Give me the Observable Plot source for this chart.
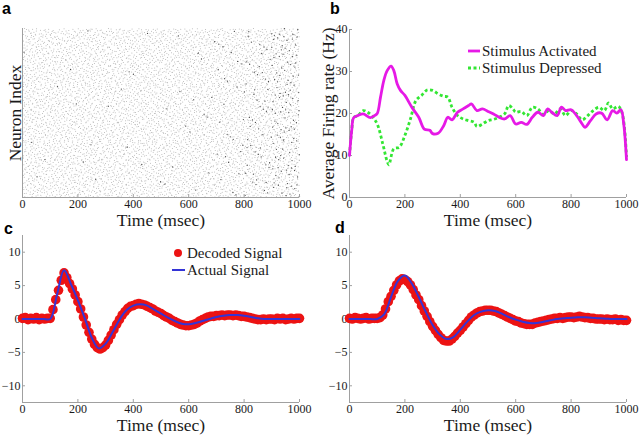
<!DOCTYPE html>
<html>
<head>
<meta charset="utf-8">
<script src="https://cdn.jsdelivr.net/npm/d3@7"></script>
<script src="https://cdn.jsdelivr.net/npm/@observablehq/plot@0.6"></script>
<style>
  html, body { margin: 0; padding: 0; background: #fff; }
  #fig { position: relative; width: 640px; height: 435px; background: #fff; overflow: hidden;
         font-family: "Liberation Serif", "DejaVu Serif", serif; color: #1a1a1a; }
  .panel { position: absolute; }
  .plabel { position: absolute; font-family: "Liberation Sans", Arial, sans-serif; font-weight: bold;
            font-size: 16px; line-height: 16px; color: #000; }
  .leg { position: absolute; font-size: 15px; line-height: 14px; white-space: nowrap; color: #1a1a1a; }
  .sw { position: absolute; }
</style>
</head>
<body>
<div id="fig"></div>
<script>
// ---------- shared tick labels ----------
const timeTicks = [0, 200, 400, 600, 800, 1000];
const rateTicks = [0, 10, 20, 30, 40];
const signalTicks = [-10, -5, 0, 5, 10];

// ---------- panel a: raster (dark spikes per 100 ms bin) ----------
const rasterBins = [0, 100, 200, 300, 400, 500, 600, 700, 800, 900];
const darkSpikesPerBin = [4, 3, 4, 4, 4, 6, 10, 25, 55, 115];
const lightSpikeCount = 6000;
const neuronCount = 170;

// ---------- panel b: average firing rates ----------
const activatedT = [0, 8, 15, 30, 50, 75, 90, 100, 112, 124, 136, 150, 160, 172, 184, 200, 225, 250, 270, 290, 300, 320, 340, 355, 370, 390, 410, 430, 440, 460, 480, 500, 520, 540, 560, 580, 600, 620, 640, 660, 680, 700, 715, 730, 750, 765, 780, 800, 820, 840, 850, 870, 890, 910, 930, 950, 965, 980, 990, 1000];
const activatedV = [10, 16, 19, 19.5, 19.9, 19, 19.5, 20, 23.9, 27.9, 30.2, 31.3, 30.2, 27.1, 25.5, 24.3, 21.5, 19.1, 16.3, 16, 15.2, 15.3, 17.1, 19.1, 18.5, 20.3, 21.1, 21.9, 22.3, 20.7, 21.1, 20.5, 19.9, 19.1, 18.7, 19.5, 17.5, 17.9, 17.4, 19.1, 20.3, 19.5, 21.1, 20.3, 19.5, 21.5, 20.7, 20.9, 19.5, 17.5, 16.7, 18.3, 19.9, 20.1, 18.5, 20.7, 20.1, 20.9, 17.5, 9.0];
const depressedT = [0, 8, 15, 30, 50, 65, 80, 100, 120, 135, 142, 160, 180, 200, 220, 240, 260, 280, 300, 320, 340, 355, 370, 390, 410, 430, 450, 460, 480, 500, 520, 540, 560, 575, 590, 600, 620, 640, 660, 680, 700, 720, 740, 760, 780, 800, 820, 840, 860, 880, 900, 920, 935, 950, 970, 985, 1000];
const depressedV = [10, 16, 19, 19.5, 20.7, 20.3, 19.5, 17.5, 12.8, 8.8, 7.8, 11.6, 12, 14.8, 18.7, 23.1, 24.3, 25.6, 25.5, 24.7, 24.1, 23.9, 21.5, 19.5, 18.7, 18.3, 17.9, 16.9, 17.5, 18.3, 18.6, 19.1, 19.9, 21.9, 21.1, 20.3, 20.5, 19.5, 21.5, 21.1, 19.8, 20.7, 19.9, 21.1, 19.5, 20.7, 19.9, 18.5, 19.5, 20.7, 21.5, 20.7, 22.5, 21.1, 21.7, 19.9, 9.6];

// ---------- panels c, d: actual signals (25 ms samples) ----------
const actualT = [0, 25, 50, 75, 100, 125, 150, 175, 200, 225, 250, 275, 300, 325, 350, 375, 400, 425, 450, 475, 500, 525, 550, 575, 600, 625, 650, 675, 700, 725, 750, 775, 800, 825, 850, 875, 900, 925, 950, 975, 1000];
const actualC = [0, 0, 0, 0, 0, 3.7, 7.3, 5.2, 2.8, 0.1, -2.8, -4.4, -3.7, -2.0, -0.1, 1.3, 2.0, 2.2, 2.0, 1.4, 0.8, 0.2, -0.3, -0.7, -0.8, -0.6, -0.3, 0.0, 0.3, 0.5, 0.6, 0.6, 0.5, 0.3, 0.1, 0.0, 0.0, 0.0, 0.0, 0.0, 0.0];
const actualD = [0, 0, 0, 0, 0, 0.7, 3.3, 5.7, 6.5, 5.3, 3.3, 1.1, -0.9, -2.3, -3.0, -2.7, -1.6, -0.4, 0.6, 1.1, 1.3, 1.2, 0.8, 0.3, -0.1, -0.4, -0.6, -0.6, -0.4, -0.2, 0.0, 0.1, 0.2, 0.25, 0.25, 0.2, 0.1, 0.05, 0, 0, 0];

// ---------- panels c, d: decoded signals (10 ms samples) ----------
const decodedT = d3.range(0, 1001, 10);
const decodedC = [
  0.1, 0.2, -0.1, 0.1, 0.0, 0.2, -0.1, 0.1, 0.0, 0.1,
  0.1, 1.4, 2.9, 4.3, 5.8, 6.9, 6.2, 5.3, 4.5, 3.6,
  2.6, 1.5, 0.3, -0.9, -2.0, -3.0, -3.8, -4.3, -4.5, -4.3,
  -3.9, -3.2, -2.4, -1.6, -0.8, -0.1, 0.6, 1.1, 1.6, 1.9,
  2.0, 2.2, 2.3, 2.2, 2.1, 1.9, 1.7, 1.5, 1.2, 1.0,
  0.8, 0.5, 0.3, 0.1, -0.2, -0.4, -0.6, -0.8, -0.9, -1.0,
  -1.0, -0.9, -0.8, -0.6, -0.3, -0.1, 0.1, 0.3, 0.4, 0.4,
  0.5, 0.5, 0.6, 0.5, 0.6, 0.6, 0.5, 0.6, 0.5, 0.4,
  0.4, 0.3, 0.2, 0.1, 0.0, -0.1, -0.1, 0.0, -0.1, 0.0,
  0.0, -0.1, 0.1, 0.0, 0.1, -0.1, 0.0, 0.1, 0.0, 0.1, 0.1];
const decodedD = [
  0.1, 0.0, 0.2, 0.1, 0.0, 0.1, 0.2, 0.0, 0.1, 0.1,
  0.1, 0.2, 0.6, 1.5, 2.6, 3.4, 4.3, 5.1, 5.7, 6.0,
  5.9, 5.6, 5.1, 4.4, 3.6, 2.9, 2.0, 1.2, 0.4, -0.4,
  -1.1, -1.7, -2.3, -2.8, -3.2, -3.3, -3.3, -3.0, -2.6, -2.1,
  -1.7, -1.2, -0.7, -0.2, 0.3, 0.6, 0.9, 1.1, 1.2, 1.3,
  1.3, 1.3, 1.2, 1.1, 0.9, 0.7, 0.5, 0.3, 0.1, -0.1,
  -0.3, -0.4, -0.6, -0.7, -0.8, -0.8, -0.8, -0.6, -0.5, -0.4,
  -0.3, -0.2, -0.1, 0.0, 0.1, 0.1, 0.2, 0.1, 0.2, 0.3,
  0.3, 0.2, 0.3, 0.4, 0.3, 0.2, 0.2, 0.1, 0.1, 0.0,
  0.0, 0.0, -0.1, 0.0, -0.1, -0.1, 0.0, -0.2, -0.1, -0.2, -0.2];

// ---------- styling ----------
const AXIS = "#a0a0a0";
const TEXT = "#1a1a1a";
const MAGENTA = "#e619e6";
const GREEN = "#33e633";
const RED = "#ec1313";
const BLUE = "#3434d6";
const baseStyle = { fontFamily: "'Liberation Serif', 'DejaVu Serif', serif", fontSize: "12px", color: TEXT, background: "none", overflow: "visible" };

const fig = document.getElementById("fig");

function place(node, left, top) {
  const wrap = document.createElement("div");
  wrap.className = "panel";
  wrap.style.left = left + "px";
  wrap.style.top = top + "px";
  wrap.appendChild(node);
  fig.appendChild(wrap);
}
function addLabel(text, left, top) {
  const s = document.createElement("div");
  s.className = "plabel";
  s.textContent = text;
  s.style.left = left + "px";
  s.style.top = top + "px";
  fig.appendChild(s);
}
function addLegendText(text, left, top) {
  const s = document.createElement("div");
  s.className = "leg";
  s.textContent = text;
  s.style.left = left + "px";
  s.style.top = top + "px";
  fig.appendChild(s);
}
function addSwatch(svgInner, left, top, w, h) {
  const ns = "http://www.w3.org/2000/svg";
  const svg = document.createElementNS(ns, "svg");
  svg.setAttribute("width", w);
  svg.setAttribute("height", h);
  svg.setAttribute("class", "sw");
  svg.style.left = left + "px";
  svg.style.top = top + "px";
  svg.innerHTML = svgInner;
  fig.appendChild(svg);
}

const fmtSigned = d => d < 0 ? "\u2212" + Math.abs(d) : String(d);

function axesMarks({ innerW, innerH, yDomain, yTicks, yLabel, yLabelDx, xTitleDy }) {
  const marks = [
    Plot.ruleY([yDomain[0]], { stroke: AXIS, strokeWidth: 1 }),
    Plot.ruleX([0], { stroke: AXIS, strokeWidth: 1 }),
    Plot.ruleX(timeTicks, { stroke: AXIS, insetTop: innerH - 3 }),
    Plot.axisX({ ticks: timeTicks, tickSize: 0, tickPadding: 2, label: null, tickFormat: d => String(d), fill: TEXT }),
    Plot.text(["Time (msec)"], { frameAnchor: "bottom", lineAnchor: "middle", textAnchor: "middle", dy: xTitleDy, fontSize: 17.5, fill: TEXT })
  ];
  if (yTicks) {
    marks.push(Plot.ruleY(yTicks, { stroke: AXIS, insetRight: innerW - 3 }));
    marks.push(Plot.axisY({ ticks: yTicks, tickSize: 0, tickPadding: 2, label: null, tickFormat: fmtSigned, fill: TEXT }));
  }
  if (yLabel) {
    marks.push(Plot.text([yLabel], { frameAnchor: "left", textAnchor: "middle", lineAnchor: "middle", rotate: -90, dx: yLabelDx, fontSize: 17.5, fill: TEXT }));
  }
  return marks;
}

// ---------- panel a ----------
function halton(i, b) { let f = 1, r = 0; while (i > 0) { f /= b; r += f * (i % b); i = Math.floor(i / b); } return r; }
const lightSpikes = d3.range(1, lightSpikeCount + 1).map(i => ({ t: halton(i * 31 + 7, 2) * 1000, n: halton(i * 31 + 7, 3) * neuronCount }));
const darkSpikes = [];
let k = 1;
rasterBins.forEach((b0, bi) => {
  for (let j = 0; j < darkSpikesPerBin[bi]; j++, k++) {
    darkSpikes.push({ t: b0 + halton(k * 13 + 3, 5) * 100, n: halton(k * 13 + 3, 7) * neuronCount });
  }
});
{
  const W = 320, H = 230, mL = 22, mR = 21, mT = 28, mB = 33;
  const p = Plot.plot({
    width: W, height: H, marginLeft: mL, marginRight: mR, marginTop: mT, marginBottom: mB,
    style: baseStyle,
    x: { domain: [0, 1000], axis: null },
    y: { domain: [0, neuronCount], axis: null },
    marks: [
      Plot.dot(lightSpikes, { x: "t", y: "n", r: 0.5, fill: "#b0b0b0", stroke: null }),
      Plot.dot(darkSpikes, { x: "t", y: "n", r: 0.65, fill: "#4a4a4a", stroke: null }),
      ...axesMarks({ innerW: W - mL - mR, innerH: H - mT - mB, yDomain: [0, neuronCount], yTicks: null, yLabel: "Neuron Index", yLabelDx: -7, xTitleDy: 23 })
    ]
  });
  place(p, 0, 0);
}

// ---------- panel b ----------
{
  const W = 320, H = 230, mL = 29, mR = 14, mT = 29, mB = 33;
  const act = activatedT.map((t, i) => ({ t, v: activatedV[i] }));
  const dep = depressedT.map((t, i) => ({ t, v: depressedV[i] }));
  const p = Plot.plot({
    width: W, height: H, marginLeft: mL, marginRight: mR, marginTop: mT, marginBottom: mB,
    style: baseStyle,
    x: { domain: [0, 1000], axis: null },
    y: { domain: [0, 40], axis: null },
    marks: [
      ...axesMarks({ innerW: W - mL - mR, innerH: H - mT - mB, yDomain: [0, 40], yTicks: rateTicks, yLabel: "Average Firing rate (Hz)", yLabelDx: -21, xTitleDy: 23 }),
      Plot.line(dep, { x: "t", y: "v", stroke: GREEN, strokeWidth: 2.8, strokeDasharray: "3,2.5", strokeLinecap: "butt", curve: "catmull-rom" }),
      Plot.line(act, { x: "t", y: "v", stroke: MAGENTA, strokeWidth: 2.8, curve: "catmull-rom" })
    ]
  });
  place(p, 320, 0);
  addSwatch(`<line x1="0" y1="4" x2="12" y2="4" stroke="${MAGENTA}" stroke-width="2.8"/>`, 468, 47, 12, 8);
  addSwatch(`<line x1="0" y1="4" x2="12" y2="4" stroke="${GREEN}" stroke-width="2.8" stroke-dasharray="3,2.5"/>`, 468, 64, 12, 8);
  addLegendText("Stimulus Activated", 482, 44);
  addLegendText("Stimulus Depressed", 482, 61);
}

// ---------- panels c and d ----------
function signalPanel(actualV, decodedV, left, top) {
  const W = 320, H = 220, mT = 20, mB = 33;
  const mL = left === 0 ? 22 : 29, mR = left === 0 ? 21 : 14;
  const actual = actualT.map((t, i) => ({ t, v: actualV[i] }));
  const decoded = decodedT.map((t, i) => ({ t, v: decodedV[i] }));
  const p = Plot.plot({
    width: W, height: H, marginLeft: mL, marginRight: mR, marginTop: mT, marginBottom: mB,
    style: baseStyle,
    x: { domain: [0, 1000], axis: null },
    y: { domain: [-12.5, 12.5], axis: null },
    marks: [
      ...axesMarks({ innerW: W - mL - mR, innerH: H - mT - mB, yDomain: [-12.5, 12.5], yTicks: signalTicks, yLabel: null, xTitleDy: 23 }),
      Plot.dot(decoded, { x: "t", y: "v", r: 4.8, fill: RED, stroke: null }),
      Plot.line(actual, { x: "t", y: "v", stroke: BLUE, strokeWidth: 2, curve: "catmull-rom" })
    ]
  });
  place(p, left, top);
}
signalPanel(actualC, decodedC, 0, 215);
signalPanel(actualD, decodedD, 320, 215);
addSwatch(`<circle cx="5" cy="5" r="4" fill="${RED}"/>`, 173, 248, 10, 10);
addSwatch(`<line x1="0" y1="4" x2="13" y2="4" stroke="${BLUE}" stroke-width="2"/>`, 172, 266, 13, 8);
addLegendText("Decoded Signal", 187, 246);
addLegendText("Actual Signal", 187, 263);

// ---------- panel letters ----------
addLabel("a", 2, 1);
addLabel("b", 330, 1);
addLabel("c", 4, 221);
addLabel("d", 335, 220);
</script>
</body>
</html>
